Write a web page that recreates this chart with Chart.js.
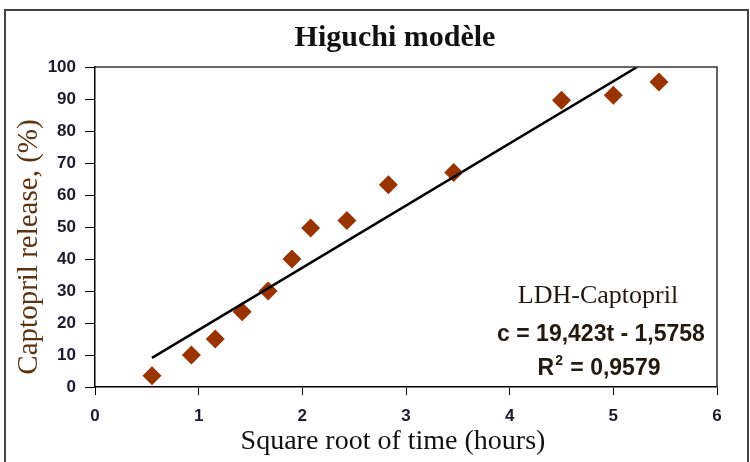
<!DOCTYPE html>
<html lang="fr">
<head>
    <meta charset="UTF-8">
    <title>Higuchi modèle</title>
    <script src="https://cdn.jsdelivr.net/npm/chart.js@4/dist/chart.umd.min.js"></script>
    <style>
        html, body { margin: 0; padding: 0; background: #fff; }
        .chart-wrapper { position: relative; width: 750px; height: 462px; }
    </style>
</head>
<body>
<div class="chart-wrapper">
    <canvas id="higuchi" width="750" height="462"></canvas>
</div>
<script>
    // racine carrée du temps (h^0.5) / captopril libéré (%)
    const sqrtTime = [0.55, 0.93, 1.16, 1.42, 1.67, 1.90, 2.08, 2.43, 2.83, 3.46, 4.50, 5.00, 5.44];
    const released = [3.5, 10, 15, 23.5, 30, 40, 49.7, 52, 63.2, 67, 89.6, 91.2, 95.3];

    // droite de régression c = 19,423t - 1,5758
    const slope = 19.423;
    const intercept = -1.5758;
    const rSquared = 0.9579;
    const fitRange = [0.55, 5.23];

    const xTicks = [0, 1, 2, 3, 4, 5, 6];
    const yTicks = [0, 10, 20, 30, 40, 50, 60, 70, 80, 90, 100];

    const points = sqrtTime.map((t, i) => ({x: t, y: released[i]}))
    const fitLine = fitRange.map(t => ({x: t, y: slope * t + intercept}))

    const comma = v => String(v).replace('.', ',')

    const serif = '"Liberation Serif", "Times New Roman", serif'
    const sans = '"Liberation Sans", Arial, sans-serif'
    const tickFont = {family: sans, size: 17, weight: 'bold'}

    // cadre extérieur + bord du graphe + textes
    const decor = {
        id: 'decor',
        beforeDraw(chart) {
            const ctx = chart.ctx
            ctx.save()
            ctx.fillStyle = '#fff'
            ctx.fillRect(0, 0, chart.width, chart.height)
            ctx.strokeStyle = '#444'
            ctx.lineWidth = 2
            ctx.strokeRect(5, 10, 743, 470)
            ctx.restore()
        },
        afterDraw(chart) {
            const ctx = chart.ctx
            const a = chart.chartArea
            ctx.save()
            ctx.strokeStyle = '#333'
            ctx.lineWidth = 1.5
            ctx.beginPath()
            ctx.moveTo(a.left, a.top)
            ctx.lineTo(a.right, a.top)
            ctx.lineTo(a.right, a.bottom)
            ctx.stroke()

            ctx.textAlign = 'center'
            ctx.textBaseline = 'middle'

            ctx.fillStyle = '#111'
            ctx.font = `bold 30px ${serif}`
            ctx.fillText('Higuchi modèle', 395, 38)

            ctx.font = `28px ${serif}`
            ctx.fillText('Square root of time (hours)', 393, 442)

            ctx.save()
            ctx.translate(29, 247)
            ctx.rotate(-Math.PI / 2)
            ctx.fillStyle = '#5c3310'
            ctx.font = `29px ${serif}`
            ctx.fillText('Captopril release, (%)', 0, 0)
            ctx.restore()

            ctx.fillStyle = '#221a10'
            ctx.font = `26px ${serif}`
            ctx.fillText('LDH-Captopril', 598, 296)
            ctx.font = `bold 23px ${sans}`
            ctx.fillText(`c = ${comma(slope)}t - ${comma(-intercept)}`, 601, 335)

            // R² avec exposant
            const big = `bold 23px ${sans}`
            const small = `bold 14px ${sans}`
            const rest = ` = ${comma(rSquared)}`
            ctx.font = big
            const wR = ctx.measureText('R').width
            const wRest = ctx.measureText(rest).width
            ctx.font = small
            const w2 = ctx.measureText('2').width + 2
            let x = 599 - (wR + w2 + wRest) / 2
            ctx.textAlign = 'left'
            ctx.font = big
            ctx.fillText('R', x, 369)
            ctx.font = small
            ctx.fillText('2', x + wR + 1, 361)
            ctx.font = big
            ctx.fillText(rest, x + wR + w2, 369)
            ctx.restore()
        }
    }

    new Chart(document.getElementById('higuchi'), {
        type: 'scatter',
        data: {
            datasets: [
                {
                    label: 'LDH-Captopril',
                    data: points,
                    pointStyle: 'rectRot',
                    pointRadius: 9.5,
                    pointHoverRadius: 9.5,
                    backgroundColor: '#993300',
                    borderColor: '#993300',
                    borderWidth: 0,
                    order: 2,
                },
                {
                    type: 'line',
                    label: 'Higuchi',
                    data: fitLine,
                    borderColor: '#000',
                    borderWidth: 2.5,
                    pointRadius: 0,
                    fill: false,
                    tension: 0,
                    order: 1,
                },
            ],
        },
        options: {
            responsive: false,
            animation: false,
            layout: {padding: {left: 8, right: 33, top: 67, bottom: 0}},
            plugins: {
                legend: {display: false},
                title: {display: false},
                tooltip: {enabled: false},
            },
            scales: {
                x: {
                    type: 'linear',
                    min: 0,
                    max: 6,
                    afterBuildTicks: s => { s.ticks = xTicks.map(v => ({value: v})) },
                    afterFit: s => { s.height = 75 },
                    grid: {drawOnChartArea: false, drawTicks: true, tickLength: 8, color: '#000'},
                    border: {color: '#000', width: 1.5},
                    ticks: {color: '#1c1c2c', font: tickFont, padding: 11, maxRotation: 0},
                },
                y: {
                    type: 'linear',
                    min: 0,
                    max: 100,
                    afterBuildTicks: s => { s.ticks = yTicks.map(v => ({value: v})) },
                    afterFit: s => { s.width = 87 },
                    grid: {drawOnChartArea: false, drawTicks: true, tickLength: 10, color: '#000'},
                    border: {color: '#000', width: 1.5},
                    ticks: {color: '#1c1c2c', font: tickFont, padding: 9},
                },
            },
        },
        plugins: [decor],
    });
</script>
</body>
</html>
